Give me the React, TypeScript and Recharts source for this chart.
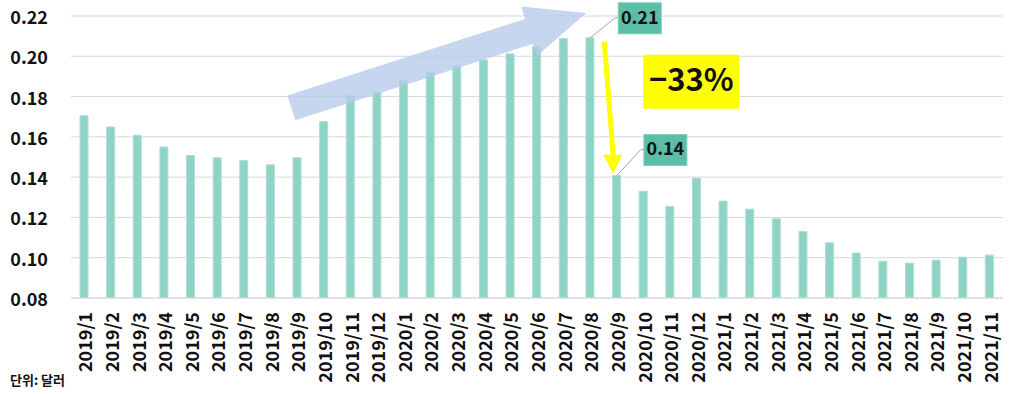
import React from "react";
import {
  BarChart,
  Bar,
  XAxis,
  YAxis,
  CartesianGrid,
  ReferenceLine,
  ReferenceDot,
} from "recharts";

const months = [
  "2019/1", "2019/2", "2019/3", "2019/4", "2019/5", "2019/6", "2019/7",
  "2019/8", "2019/9", "2019/10", "2019/11", "2019/12",
  "2020/1", "2020/2", "2020/3", "2020/4", "2020/5", "2020/6", "2020/7",
  "2020/8", "2020/9", "2020/10", "2020/11", "2020/12",
  "2021/1", "2021/2", "2021/3", "2021/4", "2021/5", "2021/6", "2021/7",
  "2021/8", "2021/9", "2021/10", "2021/11",
];

const prices = [
  0.1705, 0.1649, 0.1608, 0.155, 0.1507, 0.1496, 0.1482, 0.1461, 0.1496,
  0.1676, 0.1805, 0.1821,
  0.1878, 0.1921, 0.1952, 0.1982, 0.2012, 0.2048, 0.2088, 0.2092, 0.1408,
  0.133, 0.1254, 0.1395,
  0.1281, 0.1241, 0.1193, 0.113, 0.1074, 0.1023, 0.0983, 0.0973, 0.0988,
  0.1003, 0.1013,
];

const yTicks = [0.08, 0.1, 0.12, 0.14, 0.16, 0.18, 0.2, 0.22];

const peakLabel = "0.21";
const lowLabel = "0.14";
const dropLabel = "−33%";

const FONT = '"Noto Sans CJK KR", "Noto Sans", sans-serif';
const BAR = "#8fd3c4";
const BOX = "#5cbea6";

const data = months.map((m, i) => ({ month: m, price: prices[i] }));

// wide translucent trend arrow, drawn along a reference segment
function TrendArrow(props: any) {
  const x1 = props.x1 - 6;
  const y1 = props.y1;
  const x2 = props.x2 - 4;
  const y2 = props.y2;
  const dx = x2 - x1;
  const dy = y2 - y1;
  const len = Math.sqrt(dx * dx + dy * dy);
  const ux = dx / len;
  const uy = dy / len;
  const nx = -uy;
  const ny = ux;
  const headLen = 60;
  const shaft = 13;
  const head = 26;
  const bx = x2 - ux * headLen;
  const by = y2 - uy * headLen;
  const pts = [
    [x1 + nx * shaft, y1 + ny * shaft],
    [bx + nx * shaft, by + ny * shaft],
    [bx + nx * head, by + ny * head],
    [x2, y2],
    [bx - nx * head, by - ny * head],
    [bx - nx * shaft, by - ny * shaft],
    [x1 - nx * shaft, y1 - ny * shaft],
  ]
    .map((p) => p.join(","))
    .join(" ");
  return <polygon points={pts} fill="#b7cbea" fillOpacity={0.78} />;
}

function ValueTag({ cx, cy, text, dx, dy }: any) {
  const bx = cx + dx;
  const by = cy + dy;
  return (
    <g>
      <polyline
        points={`${cx},${cy} ${bx - 3},${by} ${bx},${by}`}
        fill="none"
        stroke="#a6a6a6"
        strokeWidth={1}
      />
      <rect x={bx} y={by - 15} width={43} height={31} fill={BOX} stroke="#7fd0bd" strokeWidth={1} />
      <text
        x={bx + 21.5}
        y={by + 1}
        textAnchor="middle"
        dominantBaseline="middle"
        fontFamily={FONT}
        fontWeight={700}
        fontSize={18}
        fill="#111"
      >
        {text}
      </text>
    </g>
  );
}

function PeakShape(props: any) {
  const { cx, cy } = props;
  return (
    <g>
      <ValueTag cx={cx} cy={cy} text={peakLabel} dx={28} dy={-20} />
      {/* yellow drop arrow */}
      <line x1={cx + 14} y1={cy + 4} x2={cx + 23} y2={cy + 118} stroke="#ffff00" strokeWidth={5} />
      <polygon
        points={`${cx + 13},${cy + 117} ${cx + 32},${cy + 117} ${cx + 23},${cy + 136}`}
        fill="#ffff00"
      />
      <rect x={cx + 53} y={cy + 17} width={96} height={54} fill="#ffff00" />
      <text
        x={cx + 101}
        y={cy + 45}
        textAnchor="middle"
        dominantBaseline="middle"
        fontFamily={FONT}
        fontWeight={700}
        fontSize={31}
        fill="#111"
      >
        {dropLabel}
      </text>
    </g>
  );
}

function LowShape(props: any) {
  const { cx, cy } = props;
  return <ValueTag cx={cx} cy={cy} text={lowLabel} dx={27} dy={-26} />;
}

function XTick({ x, y, payload }: any) {
  return (
    <text
      transform={`translate(${x},${y + 6}) rotate(-90)`}
      textAnchor="end"
      dominantBaseline="central"
      fontFamily={FONT}
      fontWeight={700}
      fontSize={18}
      fill="#111"
    >
      {payload.value}
    </text>
  );
}

function YTick({ y, payload }: any) {
  return (
    <text
      x={48}
      y={y}
      textAnchor="end"
      dominantBaseline="central"
      fontFamily={FONT}
      fontWeight={700}
      fontSize={18}
      fill="#111"
    >
      {Number(payload.value).toFixed(2)}
    </text>
  );
}

export default function App() {
  return (
    <div
      style={{
        position: "absolute",
        left: 0,
        top: 0,
        width: 1015,
        height: 394,
        background: "#fff",
      }}
    >
      <BarChart
        width={1015}
        height={394}
        data={data}
        margin={{ top: 16, right: 12, bottom: 0, left: 0 }}
        barCategoryGap={0}
      >
        <CartesianGrid vertical={false} stroke="#d9d9d9" />
        <XAxis
          dataKey="month"
          interval={0}
          height={96}
          tickLine={false}
          axisLine={{ stroke: "#d9d9d9" }}
          tick={<XTick />}
        />
        <YAxis
          width={71}
          domain={[0.08, 0.22]}
          ticks={yTicks}
          allowDataOverflow
          axisLine={false}
          tickLine={false}
          tick={<YTick />}
        />
        <Bar
          dataKey="price"
          fill={BAR}
          stroke="#a9e0d4"
          strokeWidth={1}
          barSize={8}
          isAnimationActive={false}
        />
        <ReferenceLine
          segment={[
            { x: "2019/9", y: 0.1744 },
            { x: "2020/8", y: 0.2215 },
          ]}
          ifOverflow="visible"
          shape={TrendArrow}
        />
        <ReferenceDot x="2020/8" y={0.2092} ifOverflow="visible" shape={PeakShape} />
        <ReferenceDot x="2020/9" y={0.1408} ifOverflow="visible" shape={LowShape} />
      </BarChart>
      <div
        style={{
          position: "absolute",
          left: 10,
          top: 370,
          fontFamily: FONT,
          fontWeight: 700,
          fontSize: 13,
          color: "#111",
        }}
      >
        단위: 달러
      </div>
    </div>
  );
}
